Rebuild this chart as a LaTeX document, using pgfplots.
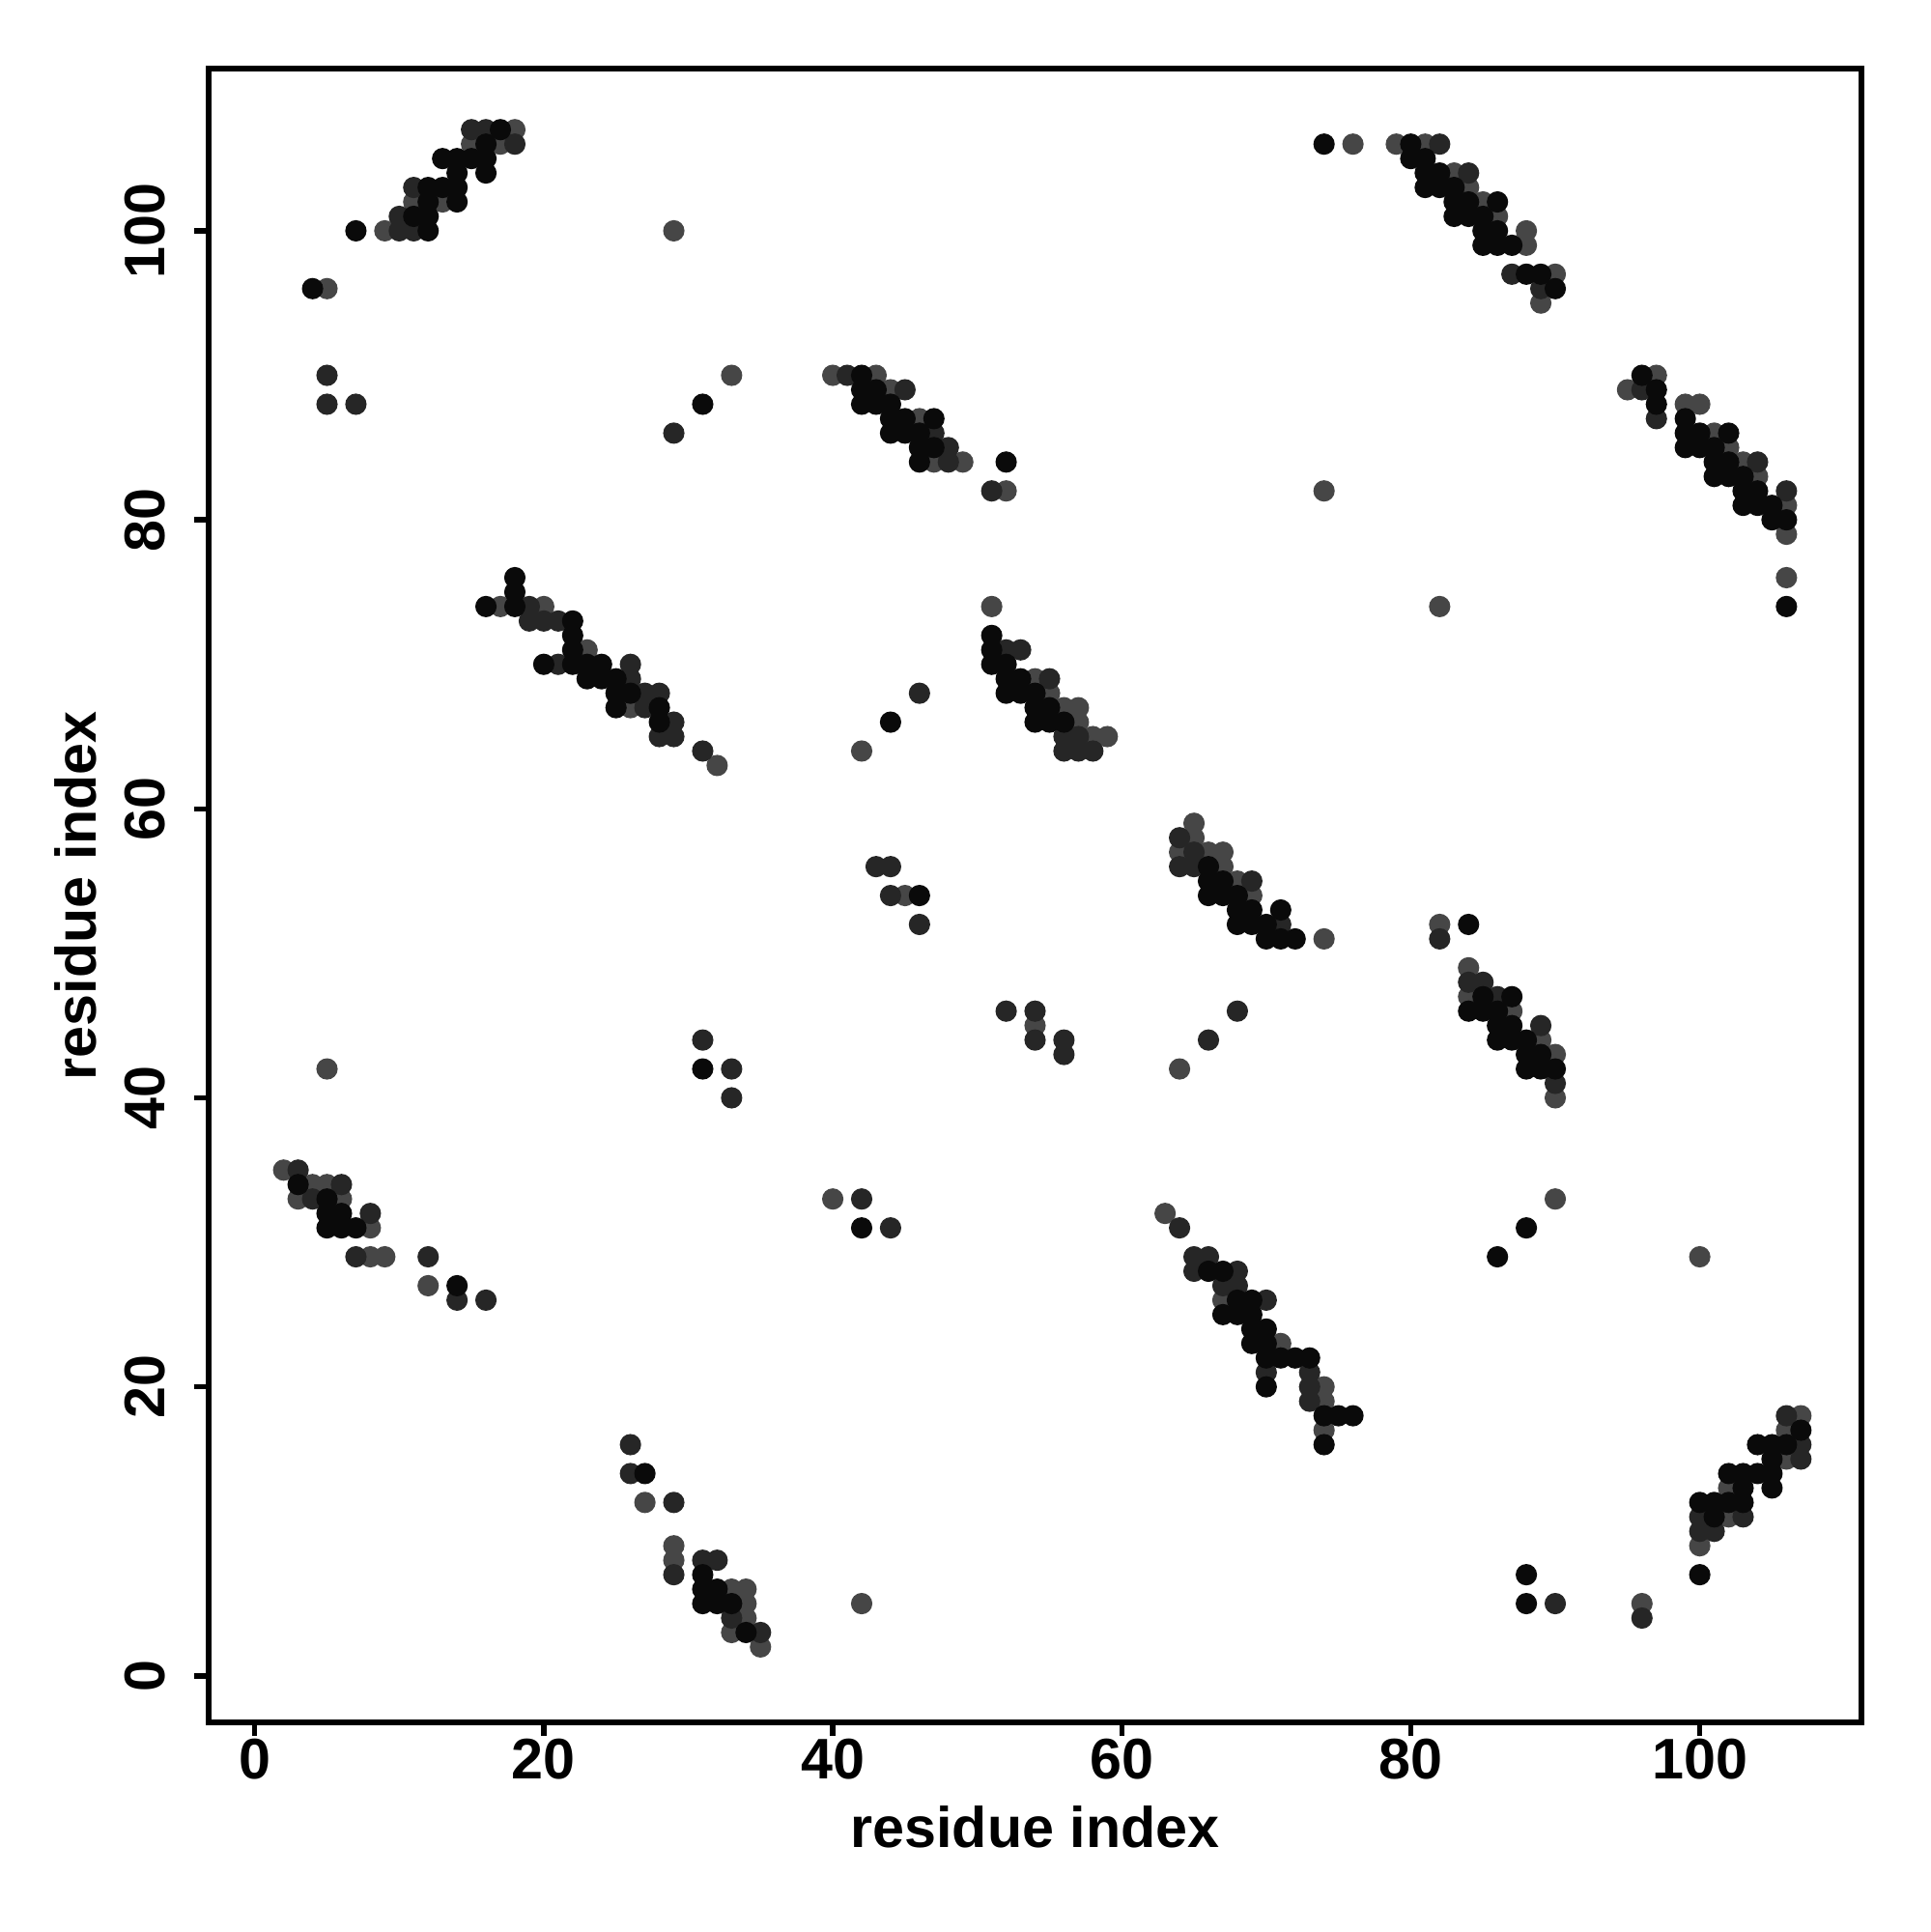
\documentclass[border=0pt]{standalone}
\usepackage{pgfplots}
\pgfplotsset{compat=1.18}
\usepackage{fontspec}
\setmainfont{Liberation Sans}
\definecolor{cK}{HTML}{0A0A0A}
\definecolor{cD}{HTML}{262626}
\definecolor{cG}{HTML}{464646}
\begin{document}
\begin{tikzpicture}
\begin{axis}[
  at={(0,0)}, anchor=south west,
  scale only axis, width=11.98cm, height=11.98cm,
  xmin=-3.21, xmax=111.2, ymin=-3.21, ymax=111.2,
  axis line style={line width=1.2pt},
  font=\fontsize{11.8}{14}\selectfont\bfseries,
  /pgf/number format/assume math mode=true,
  xtick={0,20,...,100}, ytick={0,20,...,100},
  xtick pos=lower, ytick pos=left,
  tick align=outside, major tick length=0.1cm,
  tick style={line width=1.1pt, black},
  xticklabel style={anchor=north},
  xticklabel shift=-0.1cm,
  yticklabel style={rotate=90, anchor=south},
  yticklabel shift=0.09cm,
  xlabel={residue index}, ylabel={residue index},
  xlabel style={at={(axis description cs:0.5,-0.0631)}, anchor=center},
  ylabel style={at={(axis description cs:-0.0801,0.5)}, anchor=center},
  every axis plot/.append style={only marks, mark=*, mark size=2pt},
]
% gray contacts
\addplot[color=cG] coordinates {
(18,107)(15,106)(17,106)(11,102)(13,102)(9,100)(5,96)
(76,106)(79,106)(81,106)(83,104)(84,103)(85,102)(86,101)(88,100)(88,99)(90,97)(89,95)
(40,90)(43,90)(44,89)(46,87)(47,84)(49,84)(52,82)
(97,90)(95,89)(99,88)(100,88)(101,86)(102,85)(103,84)(104,83)(106,81)(106,79)(106,76)
(17,74)(20,74)(23,71)(26,67)(32,63)
(51,74)(54,69)(55,68)(56,67)(57,67)(57,66)(58,65)(59,65)
(65,59)(65,58)(64,57)(66,57)(67,57)(67,56)(68,55)(69,54)(74,51)
(82,52)(84,49)(84,47)(87,46)(89,44)(90,43)(90,40)
(2,35)(4,34)(5,34)(3,33)(6,33)(8,31)(8,29)(9,29)(12,27)
(63,32)(67,26)(71,23)(74,20)(74,19)(74,17)
(27,12)(29,9)(29,8)(33,6)(34,6)(34,5)(34,4)(33,3)(35,2)
(107,18)(106,17)(106,15)(102,13)(102,11)(100,9)(96,5)
(29,100)(33,90)(74,82)(82,74)(42,64)(45,54)(54,45)(64,42)(5,42)(40,33)(90,33)(100,29)(42,5)
};
% dark contacts
\addplot[color=cD] coordinates {
(15,107)(16,107)(18,106)(11,103)(10,101)(10,100)(11,100)(5,90)(5,88)(7,88)
(82,106)(84,104)(87,97)(89,96)
(41,90)(45,89)(47,86)(48,85)(48,84)(51,82)
(96,89)(97,87)(104,84)(106,82)
(19,74)(19,73)(20,73)(21,73)(21,70)(26,70)(26,69)(27,68)(28,68)(27,67)(29,66)(28,65)(29,65)(31,64)
(52,71)(53,71)(55,69)(56,65)(57,65)(56,64)(57,64)(58,64)
(64,58)(65,57)(64,56)(65,56)(69,55)(71,52)
(82,51)(84,48)(85,48)(86,47)(89,45)(90,41)
(3,35)(6,34)(4,33)(8,32)(7,29)(12,29)(14,26)(16,26)
(64,31)(65,29)(66,29)(65,28)(68,28)(67,27)(68,27)(70,26)(70,21)(73,21)(73,20)(73,19)
(26,16)(26,14)(29,12)(31,8)(32,8)(29,7)(33,4)(35,3)
(106,18)(107,16)(107,15)(100,11)(103,11)(100,10)(101,10)(96,4)
(29,86)(46,68)(43,56)(44,56)(44,54)(46,52)(52,46)(54,46)(54,44)(56,44)(56,43)(66,44)(68,46)
(31,44)(33,42)(33,40)(42,33)(44,31)(90,5)
};
% black contacts
\addplot[color=cK] coordinates {
(17,107)(16,106)(13,105)(14,105)(15,105)(16,105)(14,104)(16,104)(12,103)(13,103)(14,103)
(12,102)(14,102)(11,101)(12,101)(7,100)(12,100)(4,96)
(74,106)(80,106)(80,105)(81,105)(81,104)(82,104)(81,103)(82,103)(83,103)(83,102)(84,102)(86,102)
(83,101)(84,101)(85,101)(85,100)(86,100)(85,99)(86,99)(87,99)(88,97)(89,97)(90,96)
(42,90)(42,89)(43,89)(42,88)(43,88)(44,88)(44,87)(45,87)(47,87)(44,86)(45,86)(46,86)(46,85)(47,85)(46,84)(52,84)
(96,90)(97,89)(97,88)(99,87)(99,86)(100,86)(102,86)(99,85)(100,85)(101,85)(101,84)(102,84)
(101,83)(102,83)(103,83)(103,82)(104,82)(103,81)(104,81)(105,81)(105,80)(106,80)(106,74)
(18,76)(18,75)(16,74)(18,74)(22,73)(22,72)(22,71)(20,70)(22,70)(23,70)(24,70)(23,69)(24,69)(25,69)
(25,68)(26,68)(25,67)(28,67)(28,66)
(51,72)(51,71)(51,70)(52,70)(52,69)(53,69)(52,68)(53,68)(54,68)(54,67)(55,67)(54,66)(55,66)(56,66)
(66,56)(66,55)(67,55)(66,54)(67,54)(68,54)(68,53)(69,53)(71,53)(68,52)(69,52)(70,52)(70,51)(71,51)(72,51)
(84,52)(85,47)(87,47)(84,46)(85,46)(86,46)(86,45)(87,45)(86,44)(87,44)(88,44)(88,43)(89,43)(88,42)(89,42)(90,42)
(3,34)(5,33)(5,32)(6,32)(5,31)(6,31)(7,31)(14,27)
(66,28)(67,28)(68,26)(69,26)(67,25)(68,25)(69,25)(69,24)(70,24)(69,23)(70,23)(70,22)(71,22)(72,22)(73,22)
(70,20)(74,18)(75,18)(76,18)(74,16)
(27,14)(31,7)(31,6)(32,6)(31,5)(32,5)(33,5)(34,3)
(107,17)(104,16)(105,16)(106,16)(105,15)(102,14)(103,14)(104,14)(105,14)(103,13)(105,13)
(100,12)(101,12)(102,12)(103,12)(101,11)(100,7)
(31,88)(44,66)(46,54)(31,42)(42,31)(86,29)(88,31)(88,7)(88,5)
};
\end{axis}
\path[use as bounding box] (-1.51,-1.52) rectangle (12.48,12.48);
\end{tikzpicture}
\end{document}
